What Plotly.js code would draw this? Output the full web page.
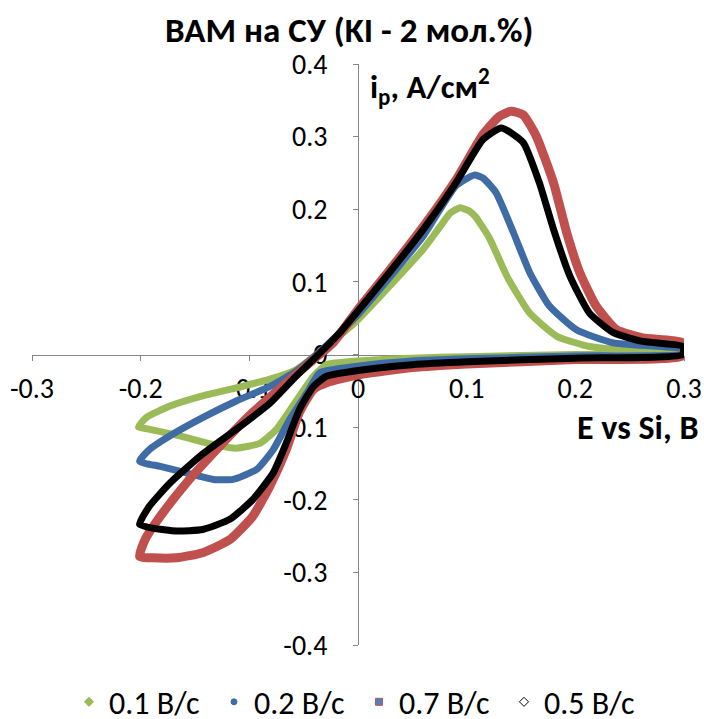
<!DOCTYPE html>
<html>
<head>
<meta charset="utf-8">
<script src="https://cdn.plot.ly/plotly-3.0.1.min.js"></script>
<style>html,body{margin:0;padding:0;background:#fff;}#chart{width:704px;height:719px;}</style>
</head>
<body>
<div id="chart"></div>
<script>
// ---- Data ----
const seriesNames = ['0.1 B/c', '0.2 B/c', '0.7 B/c', '0.5 B/c'];

// 0.1 V/s (green)
const x01 = [-0.202,-0.195,-0.173,-0.143,-0.112,-0.081,-0.057,-0.038,-0.020,0.000,0.029,0.060,0.075,0.085,0.094,0.103,0.108,0.121,0.137,0.158,0.183,0.213,0.256,0.300,
             0.300,0.200,0.100,0.050,0.000,-0.029,-0.041,-0.060,-0.075,-0.090,-0.112,-0.133,-0.164,-0.195,-0.202];
const y01 = [-0.100,-0.087,-0.071,-0.057,-0.046,-0.034,-0.021,0.000,0.022,0.048,0.094,0.145,0.175,0.195,0.202,0.197,0.190,0.160,0.108,0.057,0.025,0.011,0.005,0.003,
             0.001,0.000,-0.003,-0.005,-0.009,-0.014,-0.030,-0.071,-0.103,-0.122,-0.129,-0.124,-0.112,-0.102,-0.100];

// 0.2 V/s (blue)
const x02 = [-0.201,-0.192,-0.173,-0.143,-0.112,-0.081,-0.057,-0.038,-0.020,0.000,0.029,0.060,0.090,0.107,0.115,0.127,0.143,0.158,0.176,0.201,0.235,0.299,
             0.299,0.200,0.100,0.050,0.000,-0.035,-0.047,-0.063,-0.078,-0.093,-0.115,-0.133,-0.158,-0.182,-0.201];
const y02 = [-0.147,-0.131,-0.112,-0.087,-0.064,-0.044,-0.023,0.000,0.025,0.055,0.106,0.163,0.232,0.247,0.243,0.223,0.168,0.113,0.067,0.034,0.016,0.007,
             0.001,-0.002,-0.006,-0.009,-0.016,-0.025,-0.053,-0.090,-0.131,-0.158,-0.172,-0.172,-0.163,-0.154,-0.147];

// 0.7 V/s (red)
const x07 = [-0.201,-0.196,-0.182,-0.158,-0.127,-0.097,-0.066,-0.041,-0.023,0.000,0.029,0.060,0.090,0.115,0.130,0.141,0.152,0.164,0.180,0.192,0.204,0.219,0.238,0.262,0.299,
             0.299,0.200,0.100,0.050,0.000,-0.029,-0.041,-0.054,-0.066,-0.081,-0.097,-0.118,-0.143,-0.167,-0.189,-0.201];
const y07 = [-0.278,-0.255,-0.223,-0.177,-0.126,-0.080,-0.039,-0.007,0.016,0.062,0.116,0.176,0.240,0.303,0.328,0.335,0.330,0.301,0.236,0.168,0.113,0.067,0.034,0.023,0.016,
             -0.002,-0.007,-0.013,-0.018,-0.028,-0.039,-0.048,-0.080,-0.131,-0.181,-0.223,-0.255,-0.273,-0.280,-0.280,-0.278];

// 0.5 V/s (black)
const x05 = [-0.201,-0.192,-0.173,-0.143,-0.112,-0.081,-0.057,-0.035,-0.018,0.000,0.029,0.060,0.090,0.115,0.132,0.152,0.167,0.180,0.195,0.213,0.235,0.262,0.299,
             0.299,0.200,0.100,0.050,0.000,-0.029,-0.041,-0.054,-0.066,-0.078,-0.097,-0.118,-0.143,-0.167,-0.189,-0.201];
const y05 = [-0.234,-0.209,-0.177,-0.137,-0.103,-0.067,-0.030,0.002,0.028,0.060,0.113,0.172,0.236,0.296,0.312,0.292,0.236,0.172,0.108,0.057,0.030,0.018,0.011,
             0.000,-0.005,-0.010,-0.014,-0.022,-0.030,-0.044,-0.076,-0.122,-0.163,-0.200,-0.227,-0.241,-0.243,-0.239,-0.234];

const xTickVals = [-0.3,-0.2,-0.1,0,0.1,0.2,0.3];
const xTickText = ['-0.3','-0.2','-0.1','0','0.1','0.2','0.3'];
const yTickVals = [-0.4,-0.3,-0.2,-0.1,0,0.1,0.2,0.3,0.4];
const yTickText = ['-0.4','-0.3','-0.2','-0.1','0','0.1','0.2','0.3','0.4'];

// ---- Styles ----
const FONT = 'Carlito, Calibri, "Open Sans", sans-serif';
const cGreen = '#9BBB59', cBlue = '#3F6CA4', cRed = '#C0504D', cBlack = '#000000';

function curve(x, y, color, w) {
  return {x: x, y: y, type: 'scatter', mode: 'lines', showlegend: false, hoverinfo: 'skip',
          line: {color: color, width: w, shape: 'spline', smoothing: 0.5}};
}
function legendItem(name, symbol, fill, border, size) {
  return {x: [null], y: [null], type: 'scatter', mode: 'markers', name: name, showlegend: true,
          marker: {symbol: symbol, color: fill, size: size, line: {color: border, width: 1}}};
}

const data = [
  curve(x01, y01, cGreen, 7),
  curve(x02, y02, cBlue, 7),
  curve(x07, y07, cRed, 9),
  curve(x05, y05, cBlack, 7),
  legendItem(seriesNames[0], 'diamond', cGreen, cGreen, 7),
  legendItem(seriesNames[1], 'circle', cBlue, cBlue, 6),
  legendItem(seriesNames[2], 'square', '#4F81BD', cRed, 7),
  legendItem(seriesNames[3], 'diamond', '#ffffff', '#000000', 7)
];

const axisCommon = {
  showgrid: false, zeroline: false, showline: true, linecolor: '#868686', linewidth: 1,
  ticks: 'outside', ticklen: 5, tickcolor: '#868686', tickwidth: 1,
  tickmode: 'array', anchor: 'free', position: 0.5, layer: 'below traces', automargin: false,
  tickfont: {family: FONT, size: 28, color: '#000'}, fixedrange: true
};

const layout = {
  width: 704, height: 719,
  margin: {l: 32, r: 20, t: 64, b: 74, autoexpand: false},
  paper_bgcolor: '#fff', plot_bgcolor: '#fff',
  font: {family: FONT, color: '#000'},
  title: {text: '<b>ВАМ на СУ (KI - 2 мол.%)</b>', font: {family: FONT, size: 35, color: '#000'},
          xref: 'container', x: 0.496, xanchor: 'center', yref: 'container', y: 0.958, yanchor: 'middle'},
  xaxis: Object.assign({}, axisCommon, {range: [-0.3, 0.3], tickvals: xTickVals, ticktext: xTickText, ticklabelstandoff: 4}),
  yaxis: Object.assign({}, axisCommon, {range: [-0.4, 0.4], tickvals: yTickVals, ticktext: yTickText, ticklabelstandoff: 20}),
  showlegend: true,
  legend: {orientation: 'h', xref: 'paper', x: 0.5015, xanchor: 'center', yref: 'container', y: 0.0236, yanchor: 'middle',
           font: {family: FONT, size: 32, color: '#000'}, itemwidth: 30, entrywidth: 100, entrywidthmode: 'pixels',
           bgcolor: 'rgba(0,0,0,0)'},
  annotations: [
    {text: '<b>i<sub>p</sub>, A/см<sup>2</sup></b>', xref: 'paper', yref: 'paper', x: 0.515, y: 0.962,
     xanchor: 'left', yanchor: 'middle', showarrow: false, font: {family: FONT, size: 33, color: '#000'}},
    {text: '<b>E vs Si, B</b>', xref: 'paper', yref: 'paper', x: 1.0245, y: 0.374,
     xanchor: 'right', yanchor: 'middle', showarrow: false, font: {family: FONT, size: 34, color: '#000'}}
  ]
};

Plotly.newPlot('chart', data, layout, {displayModeBar: false, staticPlot: true});
</script>
</body>
</html>
